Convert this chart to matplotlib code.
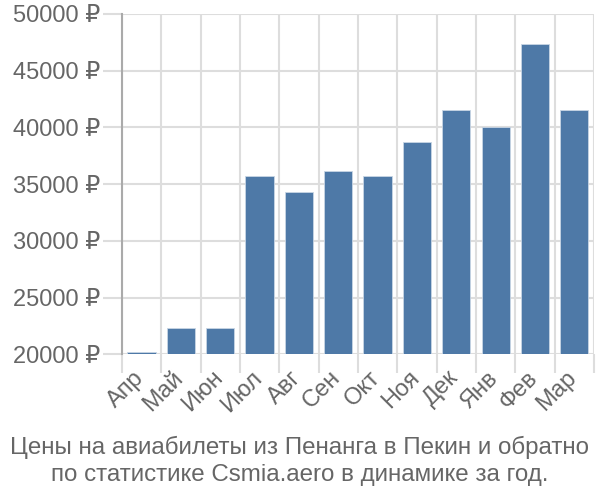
import numpy as np
import matplotlib
matplotlib.use('Agg')
import matplotlib.pyplot as plt
import matplotlib.transforms as mtransforms

plt.rcParams['font.family'] = ['Liberation Sans', 'DejaVu Sans']

# Данные
months = ['Апр', 'Май', 'Июн', 'Июл', 'Авг', 'Сен', 'Окт', 'Ноя', 'Дек', 'Янв', 'Фев', 'Мар']
prices = [20240, 22350, 22350, 35750, 34300, 36200, 35750, 38700, 41570, 40070, 47390, 41570]
yticks = [20000, 25000, 30000, 35000, 40000, 45000, 50000]
title = 'Цены на авиабилеты из Пенанга в Пекин и обратно\nпо статистике Csmia.aero в динамике за год.'

bar_color = '#4e79a7'
grid_color = '#dddddd'
text_color = '#666666'

fig = plt.figure(figsize=(6, 5), dpi=100)
ax = fig.add_axes([0.2033, 0.2914, 0.7867, 0.6806])

x = np.arange(len(months))
ax.bar(x, [p - yticks[0] for p in prices], bottom=yticks[0], width=0.72,
       color=bar_color, edgecolor='#c8d6e5', linewidth=0.6, zorder=3)

ax.set_xlim(-0.5, len(months) - 0.5)
ax.set_ylim(yticks[0], yticks[-1])

ax.set_yticks(yticks)
ax.set_yticklabels([f'{v} ₽' for v in yticks])
ax.set_xticks(x)
ax.set_xticklabels(months, rotation=45, ha='right', rotation_mode='anchor')
ax.set_xticks(np.arange(len(months) + 1) - 0.5, minor=True)

ax.tick_params(axis='y', length=14, color=grid_color, width=1.5, pad=2,
               labelsize=17, labelcolor=text_color)
ax.tick_params(axis='x', which='major', length=0, pad=9,
               labelsize=17, labelcolor=text_color)
ax.tick_params(axis='x', which='minor', length=14, color=grid_color, width=1.5)

# сдвиг подписей месяцев влево
offset = mtransforms.ScaledTranslation(-0.09, 0, fig.dpi_scale_trans)
for lbl in ax.get_xticklabels():
    lbl.set_transform(lbl.get_transform() + offset)

ax.grid(axis='y', color=grid_color, linewidth=1.5, zorder=0)
ax.grid(axis='x', which='minor', color=grid_color, linewidth=1.5, zorder=0)

for s in ['top', 'right', 'bottom']:
    ax.spines[s].set_visible(False)
ax.spines['left'].set_color('#aaaaaa')
ax.spines['left'].set_linewidth(1.5)
ax.spines['left'].set_bounds(yticks[0], yticks[-1])

fig.text(0.5, 0.078, title, ha='center', va='center', fontsize=17.4,
         color=text_color, linespacing=1.25)

fig.savefig('out.png', dpi=100)
